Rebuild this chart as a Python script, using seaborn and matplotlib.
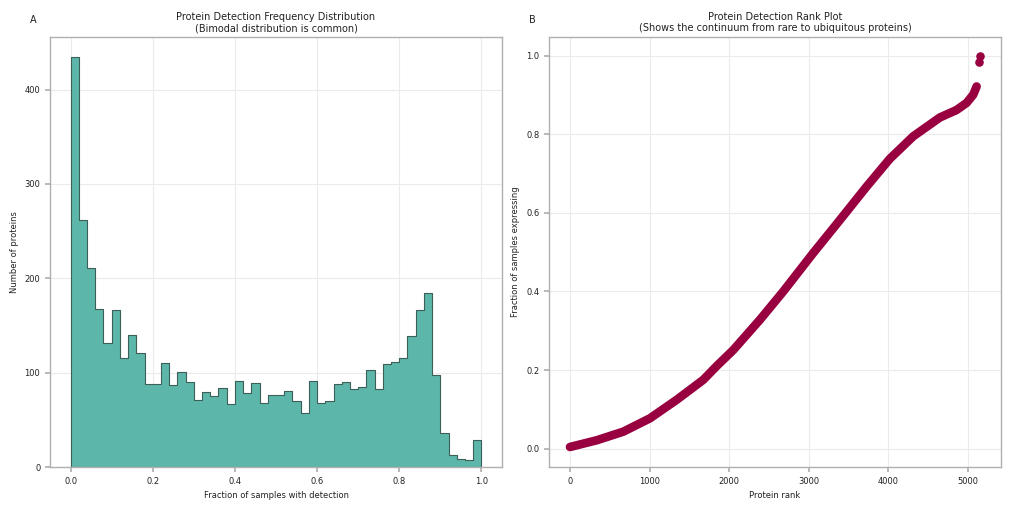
import numpy as np
import pandas as pd
import matplotlib
matplotlib.use("Agg")
import matplotlib.pyplot as plt
import seaborn as sns

# Histogram: 50 bins over [0, 1], counts
n_bins = 50
counts = [434, 262, 211, 167, 131, 166, 115, 140, 121, 88,
          88, 110, 87, 101, 90, 71, 80, 75, 84, 67,
          91, 78, 89, 68, 76, 76, 81, 70, 57, 91,
          68, 70, 88, 90, 83, 85, 103, 83, 109, 111,
          116, 139, 166, 184, 97, 36, 13, 9, 7, 29]

# Rank plot: points
rank = [0, 335, 670, 1005, 1340, 1675, 1843, 2052, 2387, 2680, 3057,
        3392, 3727, 4020, 4313, 4648, 4857, 4983, 5067, 5110]
frac = [0.004, 0.021, 0.043, 0.077, 0.124, 0.175, 0.210, 0.251, 0.328, 0.400, 0.498,
        0.582, 0.667, 0.738, 0.795, 0.843, 0.862, 0.880, 0.901, 0.922]
top_rank = [5138, 5150]
top_frac = [0.985, 1.0]

sns.set_theme(style="whitegrid")
plt.rcParams.update({
    "font.family": ["DejaVu Sans"],
    "axes.edgecolor": "#b0b0b0",
    "axes.linewidth": 1.0,
    "grid.color": "#ebebeb",
    "grid.linewidth": 0.8,
    "xtick.color": "#b0b0b0",
    "ytick.color": "#b0b0b0",
    "xtick.labelcolor": "#222222",
    "ytick.labelcolor": "#222222",
    "xtick.major.size": 3.5,
    "ytick.major.size": 3.5,
    "xtick.bottom": True,
    "ytick.left": True,
})

fig = plt.figure(figsize=(10.11, 5.11), dpi=100)
ax1 = fig.add_axes([0.0495, 0.0861, 0.4470, 0.8415])
ax2 = fig.add_axes([0.5430, 0.0861, 0.4470, 0.8415])

centers = (np.arange(n_bins) + 0.5) / n_bins
hist_df = pd.DataFrame({"detection": centers, "count": np.asarray(counts, dtype=float)})
sns.histplot(data=hist_df, x="detection", weights="count", bins=n_bins, binrange=(0, 1),
             element="step", fill=True, color="#5cb6a9", alpha=1.0,
             edgecolor="#3d5f5a", linewidth=0.8, ax=ax1)
ax1.set_xlabel("Fraction of samples with detection", fontsize=6.0, color="#222222")
ax1.set_ylabel("Number of proteins", fontsize=6.0, color="#222222")
ax1.set_title("Protein Detection Frequency Distribution\n(Bimodal distribution is common)",
              fontsize=7.0, color="#222222", pad=4)
ax1.set_xticks([0.0, 0.2, 0.4, 0.6, 0.8, 1.0])
ax1.set_yticks([0, 100, 200, 300, 400])
ax1.tick_params(labelsize=6.0)

col = "#98003f"
sns.lineplot(x=rank, y=frac, color=col, linewidth=6.2, sort=False, ax=ax2,
             solid_capstyle="round", solid_joinstyle="round")
sns.scatterplot(x=top_rank, y=top_frac, color=col, s=38, edgecolor=col, linewidth=0, ax=ax2)
ax2.set_xlim(-264, 5415)
ax2.set_ylim(-0.047, 1.048)
ax2.set_xticks([0, 1000, 2000, 3000, 4000, 5000])
ax2.set_yticks([0.0, 0.2, 0.4, 0.6, 0.8, 1.0])
ax2.set_xlabel("Protein rank", fontsize=6.0, color="#222222")
ax2.set_ylabel("Fraction of samples expressing", fontsize=6.0, color="#222222")
ax2.set_title("Protein Detection Rank Plot\n(Shows the continuum from rare to ubiquitous proteins)",
              fontsize=7.0, color="#222222", pad=4)
ax2.tick_params(labelsize=6.0)

for ax in (ax1, ax2):
    for s in ax.spines.values():
        s.set_visible(True)
        s.set_color("#b0b0b0")

fig.text(33 / 1011, 1 - 20 / 511, "A", fontsize=7.0, ha="center", va="center", color="#222222")
fig.text(532 / 1011, 1 - 20 / 511, "B", fontsize=7.0, ha="center", va="center", color="#222222")

fig.savefig("out.png", dpi=100)
